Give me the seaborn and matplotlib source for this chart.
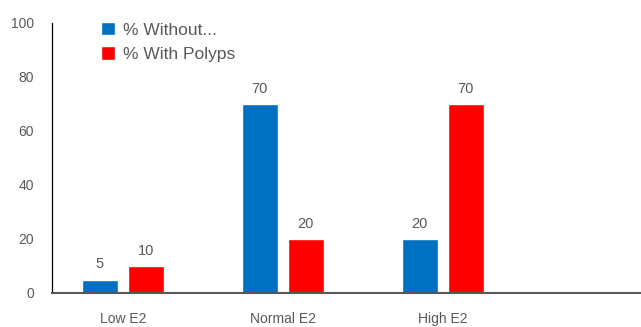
import matplotlib
matplotlib.use("Agg")
import matplotlib.pyplot as plt
import seaborn as sns
import pandas as pd

categories = ["Low E2", "Normal E2", "High E2"]
without_vals = [5, 70, 20]
with_vals = [10, 20, 70]
series_names = ["% Without...", "% With Polyps"]
colors = ["#0070C0", "#FF0000"]
yticks = [0, 20, 40, 60, 80, 100]

df = pd.DataFrame({
    "cat": categories * 2,
    "val": without_vals + with_vals,
    "series": [series_names[0]] * 3 + [series_names[1]] * 3,
})

sns.set_style("white")
plt.rcParams['font.family'] = ['Liberation Sans', 'DejaVu Sans']
txt = "#595959"

fig = plt.figure(figsize=(6.41, 3.27), dpi=100)
ax = fig.add_axes([52/641, 1-293/327, 1-52/641, (293-23)/327])
sns.barplot(data=df, x="cat", y="val", hue="series", palette=colors,
            width=0.575, gap=0.22, ax=ax, saturation=1, legend=True)
for c in ax.containers:
    ax.bar_label(c, padding=6, fontsize=10.5, color=txt)

ax.set_xlim(-0.444, 3.24)
ax.set_ylim(0, 100)
ax.set_yticks(yticks)
ax.set_xlabel("")
ax.set_ylabel("")
ax.tick_params(axis="both", length=0, colors=txt, labelsize=10)
ax.tick_params(axis="y", pad=13)
ax.tick_params(axis="x", pad=14)
for s in ["top", "right"]:
    ax.spines[s].set_visible(False)
ax.spines["left"].set_color("#000000")
ax.spines["left"].set_linewidth(0.9)
ax.spines["bottom"].set_color("#595959")
ax.spines["bottom"].set_linewidth(1.5)

leg = ax.legend(loc="upper left", bbox_to_anchor=(101/641, 1-22/327),
                bbox_transform=fig.transFigure, frameon=False, fontsize=12.5,
                handlelength=0.8, handleheight=0.8, handletextpad=0.45,
                labelspacing=0.5, borderaxespad=0, borderpad=0)
for t in leg.get_texts():
    t.set_color(txt)

fig.savefig("out.png", dpi=100)
